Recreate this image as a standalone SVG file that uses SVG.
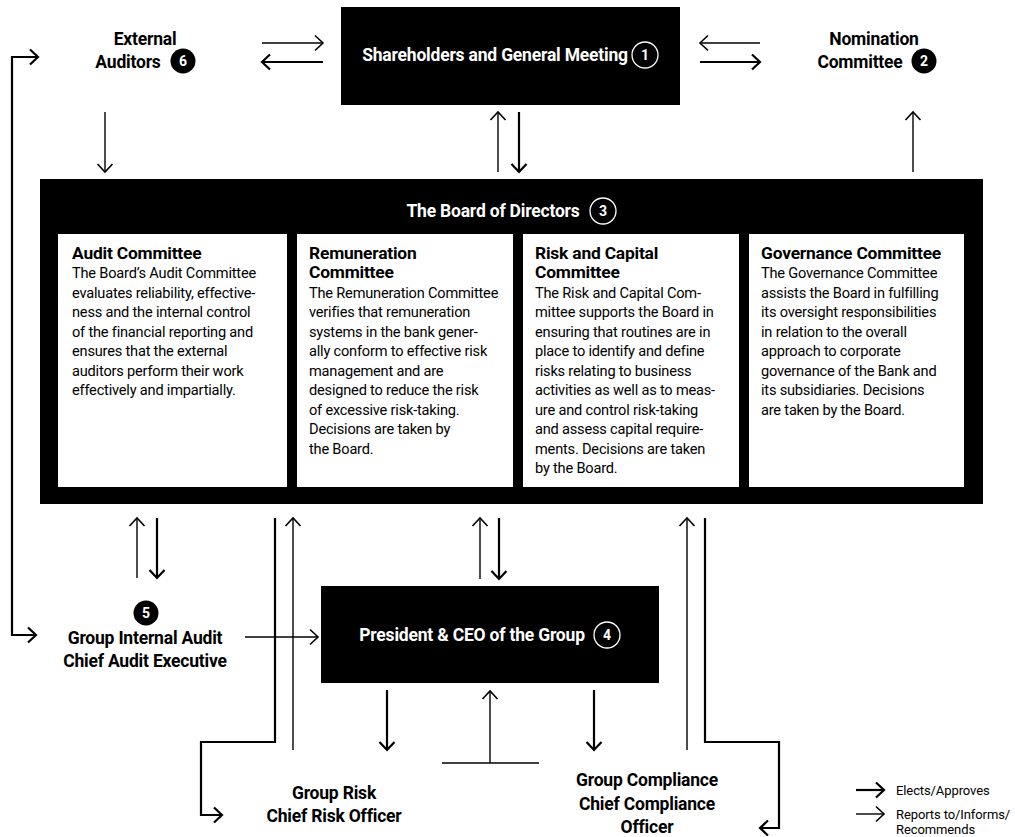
<svg xmlns="http://www.w3.org/2000/svg" width="1015" height="837" viewBox="0 0 1015 837">
<style>
.bg{fill:#fff}
.blk{fill:#000}
.card{fill:#fff}
.lbl{font-family:Roboto,"Liberation Sans",sans-serif;font-weight:700;font-size:17.5px;fill:#000;letter-spacing:-0.2px}
.wlbl{font-family:Roboto,"Liberation Sans",sans-serif;font-weight:700;font-size:17.5px;fill:#fff;letter-spacing:-0.2px}
.head{font-family:Roboto,"Liberation Sans",sans-serif;font-weight:700;font-size:17.4px;fill:#000;letter-spacing:-0.2px}
.body{font-family:Roboto,"Liberation Sans",sans-serif;font-weight:400;font-size:14.6px;fill:#000;letter-spacing:-0.2px}
.leg{font-family:Roboto,"Liberation Sans",sans-serif;font-weight:400;font-size:13px;fill:#000;letter-spacing:-0.1px}
.num{font-family:Roboto,"Liberation Sans",sans-serif;font-weight:700;font-size:14px;text-anchor:middle}
.wcirc{fill:none;stroke:#fff;stroke-width:1.3}
.bcirc{fill:#000}
.thick{fill:none;stroke:#000;stroke-width:2.2;marker-end:url(#ahk)}
.thin{fill:none;stroke:#000;stroke-width:1.4;marker-end:url(#ahn)}
.plain{fill:none;stroke:#000;stroke-width:1.4}
</style>
<defs>
<marker id="ahk" markerUnits="userSpaceOnUse" markerWidth="20" markerHeight="20" refX="0" refY="0" orient="auto" overflow="visible">
<path d="M-8,-7.5 L0,0 L-8,7.5" fill="none" stroke="#000" stroke-width="2.2"/>
</marker>
<marker id="ahn" markerUnits="userSpaceOnUse" markerWidth="20" markerHeight="20" refX="0" refY="0" orient="auto" overflow="visible">
<path d="M-8,-7.5 L0,0 L-8,7.5" fill="none" stroke="#000" stroke-width="1.6"/>
</marker>
</defs>
<rect class="bg" x="0" y="0" width="1015" height="837"/>

<g id="shareholders">
<rect class="blk" x="341" y="7" width="339" height="98"/>
<text class="wlbl" x="495" y="61" text-anchor="middle">Shareholders and General Meeting</text>
<circle class="wcirc" cx="645" cy="55" r="13"/>
<text class="num" x="645" y="60" fill="#fff">1</text>
</g>

<g id="external-auditors">
<text class="lbl" x="145" y="45" text-anchor="middle">External</text>
<text class="lbl" x="128" y="68" text-anchor="middle">Auditors</text>
<circle class="bcirc" cx="183" cy="61" r="12.5"/>
<text class="num" x="183" y="66" fill="#fff">6</text>
</g>

<g id="nomination-committee">
<text class="lbl" x="874" y="45" text-anchor="middle">Nomination</text>
<text class="lbl" x="860" y="68" text-anchor="middle">Committee</text>
<circle class="bcirc" cx="924" cy="61" r="12.5"/>
<text class="num" x="924" y="66" fill="#fff">2</text>
</g>

<g id="board">
<rect class="blk" x="40" y="179" width="943" height="325"/>
<text class="wlbl" x="493" y="217" text-anchor="middle">The Board of Directors</text>
<circle class="wcirc" cx="603" cy="211" r="13"/>
<text class="num" x="603" y="216" fill="#fff">3</text>
</g>

<g id="audit-committee">
<rect class="card" x="58" y="234" width="229" height="253"/>
<text class="head" x="72" y="259">Audit Committee</text>
<text class="body">
<tspan x="72" y="278">The Board’s Audit Committee</tspan>
<tspan x="72" y="297.5">evaluates reliability, effective-</tspan>
<tspan x="72" y="317">ness and the internal control</tspan>
<tspan x="72" y="336.5">of the financial reporting and</tspan>
<tspan x="72" y="356">ensures that the external</tspan>
<tspan x="72" y="375.5">auditors perform their work</tspan>
<tspan x="72" y="395">effectively and impartially.</tspan>
</text>
</g>

<g id="remuneration-committee">
<rect class="card" x="297" y="234" width="216" height="253"/>
<text class="head"><tspan x="309" y="259">Remuneration</tspan><tspan x="309" y="278">Committee</tspan></text>
<text class="body">
<tspan x="309" y="297.5">The Remuneration Committee</tspan>
<tspan x="309" y="317">verifies that remuneration</tspan>
<tspan x="309" y="336.5">systems in the bank gener-</tspan>
<tspan x="309" y="356">ally conform to effective risk</tspan>
<tspan x="309" y="375.5">management and are</tspan>
<tspan x="309" y="395">designed to reduce the risk</tspan>
<tspan x="309" y="414.5">of excessive risk-taking.</tspan>
<tspan x="309" y="434">Decisions are taken by</tspan>
<tspan x="309" y="453.5">the Board.</tspan>
</text>
</g>

<g id="risk-capital-committee">
<rect class="card" x="523" y="234" width="216" height="253"/>
<text class="head"><tspan x="535" y="259">Risk and Capital</tspan><tspan x="535" y="278">Committee</tspan></text>
<text class="body">
<tspan x="535" y="297.5">The Risk and Capital Com-</tspan>
<tspan x="535" y="317">mittee supports the Board in</tspan>
<tspan x="535" y="336.5">ensuring that routines are in</tspan>
<tspan x="535" y="356">place to identify and define</tspan>
<tspan x="535" y="375.5">risks relating to business</tspan>
<tspan x="535" y="395">activities as well as to meas-</tspan>
<tspan x="535" y="414.5">ure and control risk-taking</tspan>
<tspan x="535" y="434">and assess capital require-</tspan>
<tspan x="535" y="453.5">ments. Decisions are taken</tspan>
<tspan x="535" y="473">by the Board.</tspan>
</text>
</g>

<g id="governance-committee">
<rect class="card" x="749" y="234" width="215" height="253"/>
<text class="head" x="761" y="259">Governance Committee</text>
<text class="body">
<tspan x="761" y="278">The Governance Committee</tspan>
<tspan x="761" y="297.5">assists the Board in fulfilling</tspan>
<tspan x="761" y="317">its oversight responsibilities</tspan>
<tspan x="761" y="336.5">in relation to the overall</tspan>
<tspan x="761" y="356">approach to corporate</tspan>
<tspan x="761" y="375.5">governance of the Bank and</tspan>
<tspan x="761" y="395">its subsidiaries. Decisions</tspan>
<tspan x="761" y="414.5">are taken by the Board.</tspan>
</text>
</g>

<g id="ceo">
<rect class="blk" x="321" y="586" width="338" height="97"/>
<text class="wlbl" x="472" y="641" text-anchor="middle">President &amp; CEO of the Group</text>
<circle class="wcirc" cx="607" cy="635" r="13"/>
<text class="num" x="607" y="640" fill="#fff">4</text>
</g>

<g id="group-internal-audit">
<circle class="bcirc" cx="146" cy="613" r="12.5"/>
<text class="num" x="146" y="618" fill="#fff">5</text>
<text class="lbl" x="145" y="644" text-anchor="middle">Group Internal Audit</text>
<text class="lbl" x="145" y="667" text-anchor="middle">Chief Audit Executive</text>
</g>

<g id="group-risk">
<text class="lbl" x="334" y="799" text-anchor="middle">Group Risk</text>
<text class="lbl" x="334" y="822" text-anchor="middle">Chief Risk Officer</text>
</g>

<g id="group-compliance">
<text class="lbl" x="647" y="786" text-anchor="middle">Group Compliance</text>
<text class="lbl" x="647" y="810" text-anchor="middle">Chief Compliance</text>
<text class="lbl" x="647" y="833" text-anchor="middle">Officer</text>
</g>

<g id="connectors">
<path class="thin" d="M262,43 H323"/>
<path class="thick" d="M323,62 H262"/>
<path class="thin" d="M760,43 H700"/>
<path class="thick" d="M700,62 H760"/>
<path class="thin" d="M498,172 V112"/>
<path class="thick" d="M519,112 V172"/>
<path class="thin" d="M105,112 V172"/>
<path class="thin" d="M913,172 V112"/>
<path class="thick" d="M12,346 V57 H38"/>
<path class="thick" d="M12,346 V635 H36"/>
<path class="thin" d="M137,578 V518"/>
<path class="thick" d="M157,518 V578"/>
<path class="thin" d="M245,637 H318"/>
<path class="thick" d="M275,518 V742 H201 V815 H222"/>
<path class="thin" d="M293,750 V518"/>
<path class="thin" d="M480,579 V518"/>
<path class="thick" d="M499,518 V579"/>
<path class="thick" d="M387,690 V750"/>
<path class="thick" d="M594,690 V750"/>
<path class="plain" d="M442,763 H539"/>
<path class="thin" d="M490,763 V691"/>
<path class="thin" d="M687,750 V518"/>
<path class="thick" d="M705,518 V742 H779 V828 H760"/>
</g>

<g id="legend">
<path class="thick" d="M856,790 H884"/>
<text class="leg" x="896" y="795">Elects/Approves</text>
<path class="thin" d="M856,814 H884"/>
<text class="leg" x="896" y="819">Reports to/Informs/</text>
<text class="leg" x="896" y="834">Recommends</text>
</g>
</svg>
